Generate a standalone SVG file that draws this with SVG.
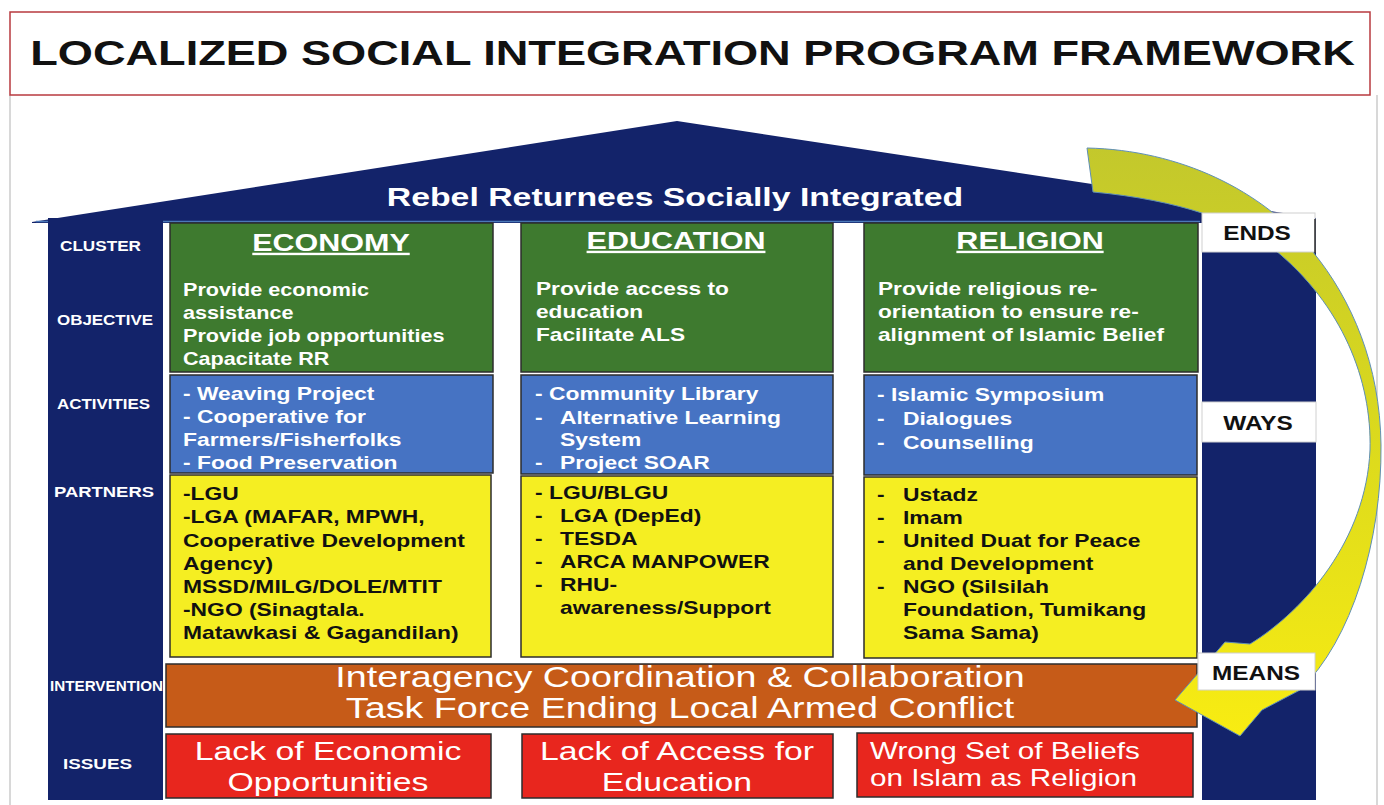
<svg xmlns="http://www.w3.org/2000/svg" width="1384" height="805" viewBox="0 0 1384 805">
<defs>
<style>
.t{font-family:"Liberation Sans",Arial,sans-serif}
.b{font-weight:bold}
.w{fill:#ffffff}
.k{fill:#111111}
.navy{fill:#13236a}
.box{stroke:#2d2d2d;stroke-width:1.5}
.green{fill:#3e7a2f}
.blue{fill:#4673c3}
.yellow{fill:#f5ee22}
.orange{fill:#c65b18}
.red{fill:#e8261e}
.lbl{fill:#ffffff;stroke:#d0d0d0;stroke-width:1}
.side{font-size:14px;font-weight:bold;fill:#ffffff}
.body{font-size:18px;font-weight:bold}
.head{font-size:24px;font-weight:bold;fill:#ffffff;text-decoration:underline}
.iss{font-size:26px;fill:#ffffff}
.tag{font-size:20px;font-weight:bold;fill:#111111}
</style>
<linearGradient id="arrowGrad" x1="0" y1="0" x2="0" y2="1">
<stop offset="0" stop-color="#c3c82c"/>
<stop offset="0.45" stop-color="#d9d81e"/>
<stop offset="1" stop-color="#f8ec12"/>
</linearGradient>
<clipPath id="intClip"><rect x="166" y="664" width="1031" height="63"/></clipPath>
</defs>
<rect x="0" y="0" width="1384" height="805" fill="#ffffff"/>
<!-- frame -->
<line x1="10" y1="95" x2="10" y2="805" stroke="#d8d8d8" stroke-width="2"/>
<line x1="1377" y1="95" x2="1377" y2="805" stroke="#d8d8d8" stroke-width="2"/>
<g id="title">
<rect x="10" y="12" width="1360" height="83" fill="#ffffff" stroke="#b83a3f" stroke-width="1.5"/>
<text class="t b k" font-size="35" transform="translate(692.5,0) scale(1.29,1)" text-anchor="middle"><tspan x="0" y="65">LOCALIZED SOCIAL INTEGRATION PROGRAM FRAMEWORK</tspan></text>
</g>
<g id="roof">
<polygon class="navy" points="32,222 677,121 1316,218 1316,223 32,223"/>
<line x1="36" y1="221.5" x2="1200" y2="221.5" stroke="#4b78b8" stroke-width="1.5"/>
<text class="t b w" font-size="26" transform="translate(675,0) scale(1.3,1)" text-anchor="middle"><tspan x="0" y="206">Rebel Returnees Socially Integrated</tspan></text>
</g>
<g id="left-column">
<rect class="navy" x="48" y="218" width="115" height="582"/>
<text class="t side" x="60" y="251" textLength="81" lengthAdjust="spacingAndGlyphs">CLUSTER</text>
<text class="t side" x="57" y="325" textLength="96" lengthAdjust="spacingAndGlyphs">OBJECTIVE</text>
<text class="t side" x="57" y="409" textLength="93" lengthAdjust="spacingAndGlyphs">ACTIVITIES</text>
<text class="t side" x="54" y="497" textLength="100" lengthAdjust="spacingAndGlyphs">PARTNERS</text>
<text class="t side" x="50" y="691" textLength="113" lengthAdjust="spacingAndGlyphs">INTERVENTION</text>
<text class="t side" x="63" y="769" textLength="69" lengthAdjust="spacingAndGlyphs">ISSUES</text>
</g>
<g id="right-column">
<rect class="navy" x="1202" y="218" width="114" height="582"/>
</g>
<g id="economy">
<rect class="box green" x="170" y="223" width="323" height="149"/>
<text class="t head" transform="translate(331,0) scale(1.27,1)" text-anchor="middle"><tspan x="0" y="251">ECONOMY</tspan></text>
<text class="t body w" transform="translate(183,0) scale(1.2,1)"><tspan x="0" y="296">Provide economic</tspan><tspan x="0" y="319">assistance</tspan><tspan x="0" y="342">Provide job opportunities</tspan><tspan x="0" y="365">Capacitate RR</tspan></text>
<rect class="box blue" x="170" y="375" width="323" height="98"/>
<text class="t body w" transform="translate(183,0) scale(1.27,1)"><tspan x="0" y="400">- Weaving Project</tspan><tspan x="0" y="423">- Cooperative for</tspan><tspan x="0" y="446">Farmers/Fisherfolks</tspan><tspan x="0" y="469">- Food Preservation</tspan></text>
<rect class="box yellow" x="170" y="475" width="321" height="182"/>
<text class="t body k" transform="translate(183,0) scale(1.27,1)"><tspan x="0" y="500">-LGU</tspan><tspan x="0" y="523">-LGA (MAFAR, MPWH,</tspan><tspan x="0" y="547">Cooperative Development</tspan><tspan x="0" y="570">Agency)</tspan><tspan x="0" y="593">MSSD/MILG/DOLE/MTIT</tspan><tspan x="0" y="616">-NGO (Sinagtala.</tspan><tspan x="0" y="639">Matawkasi &amp; Gagandilan)</tspan></text>
</g>
<g id="education">
<rect class="box green" x="521" y="223" width="312" height="149"/>
<text class="t head" transform="translate(676,0) scale(1.27,1)" text-anchor="middle"><tspan x="0" y="249">EDUCATION</tspan></text>
<text class="t body w" transform="translate(536,0) scale(1.26,1)"><tspan x="0" y="295">Provide access to</tspan><tspan x="0" y="318">education</tspan><tspan x="0" y="341">Facilitate ALS</tspan></text>
<rect class="box blue" x="521" y="375" width="312" height="99"/>
<text class="t body w" transform="translate(535,0) scale(1.27,1)"><tspan x="0" y="400">- Community Library</tspan><tspan x="0" y="424">-</tspan><tspan x="19.7" y="424">Alternative Learning</tspan><tspan x="19.7" y="446">System</tspan><tspan x="0" y="469">-</tspan><tspan x="19.7" y="469">Project SOAR</tspan></text>
<rect class="box yellow" x="521" y="476" width="312" height="181"/>
<text class="t body k" transform="translate(535,0) scale(1.27,1)"><tspan x="0" y="499">- LGU/BLGU</tspan><tspan x="0" y="522">-</tspan><tspan x="19.7" y="522">LGA (DepEd)</tspan><tspan x="0" y="545">-</tspan><tspan x="19.7" y="545">TESDA</tspan><tspan x="0" y="568">-</tspan><tspan x="19.7" y="568">ARCA MANPOWER</tspan><tspan x="0" y="591">-</tspan><tspan x="19.7" y="591">RHU-</tspan><tspan x="19.7" y="614">awareness/Support</tspan></text>
</g>
<g id="religion">
<rect class="box green" x="864" y="223" width="334" height="149"/>
<text class="t head" transform="translate(1030,0) scale(1.27,1)" text-anchor="middle"><tspan x="0" y="249">RELIGION</tspan></text>
<text class="t body w" transform="translate(878,0) scale(1.26,1)"><tspan x="0" y="295">Provide religious re-</tspan><tspan x="0" y="318">orientation to ensure re-</tspan><tspan x="0" y="341">alignment of Islamic Belief</tspan></text>
<rect class="box blue" x="864" y="375" width="333" height="100"/>
<text class="t body w" transform="translate(877,0) scale(1.27,1)"><tspan x="0" y="401">- Islamic Symposium</tspan><tspan x="0" y="425">-</tspan><tspan x="20.5" y="425">Dialogues</tspan><tspan x="0" y="449">-</tspan><tspan x="20.5" y="449">Counselling</tspan></text>
<rect class="box yellow" x="864" y="477" width="333" height="181"/>
<text class="t body k" transform="translate(877,0) scale(1.27,1)"><tspan x="0" y="501">-</tspan><tspan x="20.5" y="501">Ustadz</tspan><tspan x="0" y="524">-</tspan><tspan x="20.5" y="524">Imam</tspan><tspan x="0" y="547">-</tspan><tspan x="20.5" y="547">United Duat for Peace</tspan><tspan x="20.5" y="570">and Development</tspan><tspan x="0" y="593">-</tspan><tspan x="20.5" y="593">NGO (Silsilah</tspan><tspan x="20.5" y="616">Foundation, Tumikang</tspan><tspan x="20.5" y="639">Sama Sama)</tspan></text>
</g>
<g id="intervention">
<rect class="box orange" x="166" y="664" width="1031" height="63"/>
<g clip-path="url(#intClip)">
<text class="t" font-size="29" fill="#ffffff" transform="translate(680,0) scale(1.3,1)" text-anchor="middle"><tspan x="0" y="687">Interagency Coordination &amp; Collaboration</tspan><tspan x="0" y="718">Task Force Ending Local Armed Conflict</tspan></text>
</g>
</g>
<g id="issue-economy">
<rect class="box red" x="166" y="734" width="325" height="64"/>
<text class="t iss" transform="translate(328,0) scale(1.3,1)" text-anchor="middle"><tspan x="0" y="760">Lack of Economic</tspan><tspan x="0" y="791">Opportunities</tspan></text>
</g>
<g id="issue-education">
<rect class="box red" x="522" y="734" width="311" height="64"/>
<text class="t iss" transform="translate(677,0) scale(1.3,1)" text-anchor="middle"><tspan x="0" y="760">Lack of Access for</tspan><tspan x="0" y="791">Education</tspan></text>
</g>
<g id="issue-religion">
<rect class="box red" x="857" y="733" width="336" height="64"/>
<text class="t" font-size="23" fill="#ffffff" transform="translate(870,0) scale(1.29,1)"><tspan x="0" y="759">Wrong Set of Beliefs</tspan><tspan x="0" y="786">on Islam as Religion</tspan></text>
</g>
<g id="connectors">
<path d="M1087,148 C1180,150 1262,190 1313,252 C1352,300 1380,365 1381,445 C1382,540 1352,640 1300,690 L1262,710 L1240,736 L1175,700 L1225,642 L1250,644 C1305,610 1366,540 1370,450 C1372,380 1342,305 1275,250 C1240,222 1180,200 1093,192 Z" fill="url(#arrowGrad)" stroke="#5f8fb5" stroke-width="1"/>
</g>
<g id="label-ends">
<rect class="lbl" x="1202" y="213" width="113" height="39"/>
<line x1="1315" y1="219" x2="1315" y2="253" stroke="#333" stroke-width="1.5"/>
<text class="t tag" transform="translate(1257,0) scale(1.22,1)" text-anchor="middle"><tspan x="0" y="240">ENDS</tspan></text>
</g>
<g id="label-ways">
<rect class="lbl" x="1202" y="402" width="114" height="40"/>
<text class="t tag" transform="translate(1258,0) scale(1.22,1)" text-anchor="middle"><tspan x="0" y="430">WAYS</tspan></text>
</g>
<g id="label-means">
<rect class="lbl" x="1198" y="653" width="117" height="37"/>
<text class="t tag" transform="translate(1256,0) scale(1.22,1)" text-anchor="middle"><tspan x="0" y="680">MEANS</tspan></text>
</g>
</svg>
